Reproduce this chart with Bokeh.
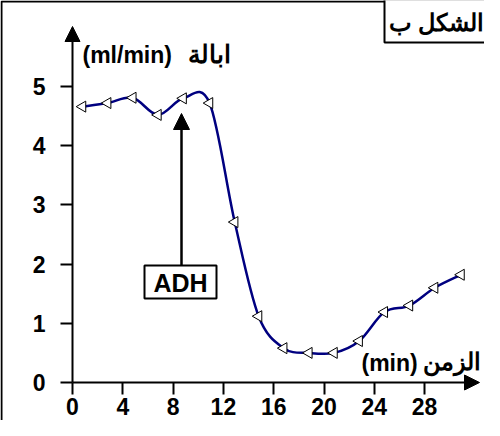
import numpy as np
from bokeh.plotting import figure
from bokeh.models import FixedTicker, Arrow, NormalHead, Label, BoxAnnotation
from bokeh.embed import file_html
from bokeh.resources import INLINE

# ---- data ----
time_min = [0.8, 2.8, 4.8, 6.8, 8.8, 10.9, 12.9, 14.8, 16.8, 18.8, 20.8, 22.8, 24.8, 26.8, 28.8, 30.9]
urine_flow = [4.66, 4.72, 4.81, 4.52, 4.80, 4.72, 2.71, 1.12, 0.58, 0.50, 0.50, 0.70, 1.19, 1.30, 1.60, 1.82]
x_ticks = [0, 4, 8, 12, 16, 20, 24, 28]
y_ticks = [0, 1, 2, 3, 4, 5]
y_label_unit = "(ml/min)"
y_label_word = "ابالة"
x_label_unit = "(min)"
x_label_word = "الزمن"
title_text = "الشكل ب"
hormone_text = "ADH"

# ---- layout (pixels) ----
W, H = 484, 420
px_x, px_y = 12.575, 59.2          # pixels per data unit
org_x, org_y = 72, 382             # canvas position of data origin (from left / top)
x_start, x_end = -org_x / px_x, (W - org_x) / px_x
y_start, y_end = -(H - org_y) / px_y, org_y / px_y


def dy(canvas_y):
    return (org_y - canvas_y) / px_y


def dx(canvas_x):
    return (canvas_x - org_x) / px_x


FONT = "Liberation Sans"

p = figure(width=W, height=H, x_range=(x_start, x_end), y_range=(y_start, y_end),
           output_backend="svg", toolbar_location=None, min_border=0)
p.grid.visible = False
p.outline_line_color = None
p.background_fill_color = "white"

for ax in (p.xaxis[0], p.yaxis[0]):
    ax.fixed_location = 0
    ax.axis_line_color = None
    ax.major_tick_in = 0
    ax.major_tick_out = 12
    ax.major_tick_line_width = 2
    ax.major_tick_line_color = "black"
    ax.minor_tick_line_color = None
    ax.major_label_text_font = FONT
    ax.major_label_text_font_style = "bold"
    ax.major_label_text_font_size = "23px"
    ax.major_label_text_color = "black"
p.xaxis[0].ticker = FixedTicker(ticks=x_ticks)
p.yaxis[0].ticker = FixedTicker(ticks=y_ticks)
p.xaxis[0].major_label_standoff = 3
p.yaxis[0].major_label_standoff = 15

# outer frame (left and top edges)
bx, by = dx(1), dy(1)
p.line([bx, bx, x_end + 2], [y_start - 2, by, by], line_color="black", line_width=2)

# axis arrows
p.add_layout(Arrow(end=NormalHead(size=15, fill_color="black", line_color="black"),
                   x_start=0, y_start=0, x_end=0, y_end=dy(26),
                   line_color="black", line_width=2))
p.add_layout(Arrow(end=NormalHead(size=15, fill_color="black", line_color="black"),
                   x_start=0, y_start=0, x_end=dx(479), y_end=0,
                   line_color="black", line_width=2))

# smooth curve (Catmull-Rom -> cubic Bezier through the data points)
xs = np.array(time_min, dtype=float)
ys = np.array(urine_flow, dtype=float)
n = len(xs)
ip = np.clip(np.arange(n) - 1, 0, n - 1)
inx = np.clip(np.arange(n) + 1, 0, n - 1)
tx = (xs[inx] - xs[ip]) / 6.0
ty = (ys[inx] - ys[ip]) / 6.0
p.bezier(x0=xs[:-1], y0=ys[:-1], x1=xs[1:], y1=ys[1:],
         cx0=xs[:-1] + tx[:-1], cy0=ys[:-1] + ty[:-1],
         cx1=xs[1:] - tx[1:], cy1=ys[1:] - ty[1:],
         line_color="#000080", line_width=2.5)

p.scatter(xs, ys, marker="triangle", angle=np.pi / 2, size=11,
          fill_color="white", line_color="black", line_width=1)

# ADH box and arrow
p.add_layout(Arrow(end=NormalHead(size=16, fill_color="black", line_color="black"),
                   x_start=dx(181), y_start=dy(265), x_end=dx(181), y_end=dy(113),
                   line_color="black", line_width=2.5))
p.add_layout(BoxAnnotation(left=dx(144), right=dx(216), bottom=dy(298), top=dy(265),
                           fill_color="white", fill_alpha=1.0,
                           line_color="black", line_width=2, line_alpha=1.0))
p.add_layout(Label(x=dx(180), y=dy(282), text=hormone_text, text_align="center", text_baseline="middle",
                   text_font=FONT, text_font_style="bold", text_font_size="25px", text_color="black"))

# title box
p.add_layout(BoxAnnotation(left=dx(384), right=x_end + 2, bottom=dy(42), top=y_end + 2,
                           fill_color="white", fill_alpha=1.0,
                           line_color="black", line_width=2, line_alpha=1.0))
p.add_layout(Label(x=dx(436), y=dy(22), text=title_text, text_align="center", text_baseline="middle",
                   text_font=FONT, text_font_style="bold", text_font_size="24px", text_color="black"))

# axis titles
p.add_layout(Label(x=dx(82), y=dy(54), text=y_label_unit, text_align="left", text_baseline="middle",
                   text_font=FONT, text_font_style="bold", text_font_size="23px", text_color="black"))
p.add_layout(Label(x=dx(230), y=dy(53), text=y_label_word, text_align="right", text_baseline="middle",
                   text_font=FONT, text_font_style="bold", text_font_size="25px", text_color="black"))
p.add_layout(Label(x=dx(361), y=dy(362), text=x_label_unit, text_align="left", text_baseline="middle",
                   text_font=FONT, text_font_style="bold", text_font_size="23px", text_color="black"))
p.add_layout(Label(x=dx(480), y=dy(361), text=x_label_word, text_align="right", text_baseline="middle",
                   text_font=FONT, text_font_style="bold", text_font_size="24px", text_color="black"))

open("out.html", "w").write(file_html(p, INLINE))
